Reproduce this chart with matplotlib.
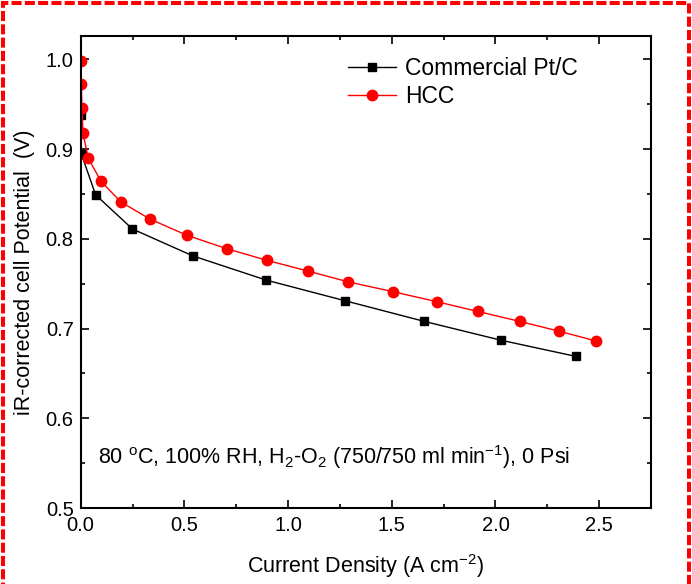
import matplotlib
matplotlib.use('Agg')
import matplotlib.pyplot as plt
from matplotlib.patches import Rectangle
from matplotlib.ticker import MultipleLocator

plt.rcParams['font.family'] = 'Liberation Sans'
plt.rcParams['mathtext.default'] = 'regular'

# Commercial Pt/C polarisation (iR-corrected)
ptc_j = [0.0, 0.004, 0.072, 0.249, 0.540, 0.894, 1.274, 1.656, 2.026, 2.387]
ptc_v = [0.938, 0.894, 0.849, 0.811, 0.781, 0.754, 0.731, 0.708, 0.687, 0.669]

# HCC catalyst
hcc_j = [0.0, 0.003, 0.006, 0.011, 0.036, 0.098, 0.194, 0.334, 0.511, 0.704, 0.898,
         1.097, 1.290, 1.507, 1.716, 1.916, 2.116, 2.307, 2.487]
hcc_v = [0.998, 0.972, 0.946, 0.918, 0.890, 0.864, 0.841, 0.822, 0.804, 0.789, 0.776,
         0.764, 0.752, 0.741, 0.730, 0.719, 0.708, 0.697, 0.686]

fig = plt.figure(figsize=(6.92, 5.84), dpi=100)
ax = fig.add_axes([0.1166, 0.1301, 0.8242, 0.8083])

ax.plot(ptc_j, ptc_v, color='black', lw=1, marker='s', ms=6.3, label='Commercial Pt/C')
ax.plot(hcc_j, hcc_v, color='red', lw=1, marker='o', ms=7.5, label='HCC')

ax.set_xlim(0, 2.75)
ax.set_ylim(0.5, 1.026)
ax.xaxis.set_major_locator(MultipleLocator(0.5))
ax.xaxis.set_minor_locator(MultipleLocator(0.25))
ax.yaxis.set_major_locator(MultipleLocator(0.1))
ax.yaxis.set_minor_locator(MultipleLocator(0.05))
ax.tick_params(which='both', direction='in', top=True, right=True, labelsize=14.5, width=1.2)
ax.tick_params(which='major', length=6)
ax.tick_params(which='minor', length=3)
ax.tick_params(axis='x', pad=6)
ax.tick_params(axis='y', pad=5)
for s in ax.spines.values():
    s.set_linewidth(1.5)

ax.set_xlabel('Current Density (A cm$^{-2}$)', fontsize=15.5, labelpad=12)
ax.set_ylabel('iR-corrected cell Potential  (V)', fontsize=15.5, labelpad=8)

ax.text(0.03, 0.109, '80 $^{o}$C, 100% RH, H$_{2}$-O$_{2}$ (750/750 ml min$^{-1}$), 0 Psi',
        transform=ax.transAxes, fontsize=15.5, va='center')

ax.legend(loc='upper left', bbox_to_anchor=(0.44, 0.99), frameon=False, fontsize=16.5,
          handlelength=2.1, handletextpad=0.4, labelspacing=0.25, borderpad=0.2)

# red dashed frame around the figure
fig.patches.append(Rectangle((3 / 692, -0.05), 686 / 692, 1.05 - 3 / 584, transform=fig.transFigure,
                             fill=False, edgecolor='red', lw=2.9, linestyle=(0, (2.5, 0.8))))

fig.savefig('out.png', dpi=100)
